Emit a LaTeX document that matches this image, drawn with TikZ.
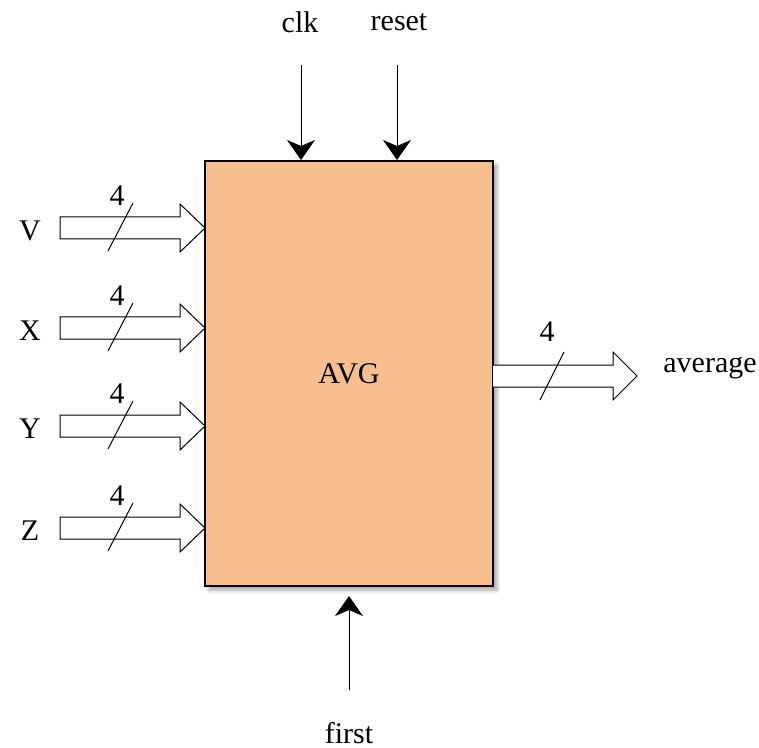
\documentclass[tikz,border=0pt]{standalone}
\usepackage{fontspec}
\setmainfont{Liberation Serif}
\usetikzlibrary{calc, positioning}
\usetikzlibrary{arrows.meta}
\usetikzlibrary{shadows.blur}

\definecolor{avgfill}{RGB}{248,190,142}

\tikzset{
  lbl/.style={font=\fontsize{15}{18}\selectfont, inner sep=0pt},
  sig/.style={line width=0.5pt, -{Stealth[length=10pt, width=14pt, inset=3pt]}},
  bus/.style={line width=0.5pt, fill=white},
  busmark/.style={line width=0.5pt},
}

\begin{document}
\begin{tikzpicture}[x=0.5pt, y=-0.5pt]
\useasboundingbox (0,0) rectangle (759,748);
\def\shaft{11}
\def\head{24}

% the block
\node[draw, line width=1pt, fill=avgfill, minimum width=144pt, minimum height=212.5pt,
      blur shadow={shadow xshift=2pt, shadow yshift=-2pt, shadow blur steps=6, shadow opacity=35},
      lbl] (avg) at (349,373.5) {AVG};

% control inputs
\node[lbl] (clk) at (300,22) {clk};
\node[lbl] (reset) at (399,22) {reset};
\node[lbl] (first) at (349,733) {first};
\coordinate (clkin) at (301,65);
\coordinate (resetin) at (397,65);
\coordinate (firstin) at (349,690);
\draw[sig] (clkin) -- (clkin |- avg.north);
\draw[sig] (resetin) -- (resetin |- avg.north);
\draw[sig, shorten >=4.5pt] (firstin) -- (firstin |- avg.south);

% data inputs
\foreach \name/\yy in {V/228, X/328, Y/426, Z/528} {
  \node[lbl] (in\name) at (30,\yy+3) {\name};
  \draw[bus] (60,\yy-\shaft) -- (180,\yy-\shaft) -- (180,\yy-\head) -- (205,\yy)
    -- (180,\yy+\head) -- (180,\yy+\shaft) -- (60,\yy+\shaft) -- cycle;
  \draw[busmark] (108,\yy+23) -- (133,\yy-25);
  \node[lbl] (w\name) at (117,\yy-32) {4};
}

% output
\def\oy{376}
\node[lbl, anchor=west] (average) at (663,368) {average};
\draw[bus] (493,\oy-\shaft) -- (613,\oy-\shaft) -- (613,\oy-\head) -- (637,\oy)
  -- (613,\oy+\head) -- (613,\oy+\shaft) -- (493,\oy+\shaft);
\draw[busmark] (540,\oy+24) -- (564,\oy-24);
\node[lbl] (wout) at (547,332) {4};
\end{tikzpicture}
\end{document}
